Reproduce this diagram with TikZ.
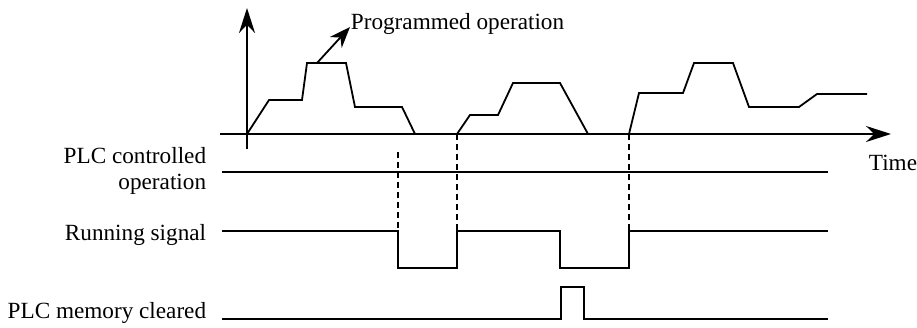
\documentclass[tikz,border=0pt]{standalone}
\usepackage{fontspec}
\setmainfont{Liberation Serif}
\usetikzlibrary{arrows.meta}
\begin{document}
\begin{tikzpicture}[x=1pt,y=-1pt,line width=1.8pt,
  lab/.style={font=\fontsize{23.2}{26}\selectfont,inner sep=0pt},
  bigtip/.style={-{Stealth[length=25pt,width=16pt]}}]
\useasboundingbox (0,0) rectangle (917,328);
% axes
\draw[bigtip] (247,149) -- (247,8);
\draw[bigtip] (220,134) -- (891,134);
\node[lab,anchor=west] (time) at (868,163) {Time};

% programmed operation
\draw (247,134) -- (269,100) -- (302,100) -- (307,63) -- (346,63) -- (355,107)
  -- (402,107) -- (415,134);
\draw (457,134) -- (470,115) -- (498,115) -- (513,83) -- (560,83) -- (588,134);
\draw (629,134) -- (639,93) -- (683,93) -- (694,63) -- (733,63) -- (749,107)
  -- (799,107) -- (817,94) -- (867,94);
\draw[-{Stealth[length=21pt,width=16pt]}] (317,63) -- (350,27);
\node[lab,anchor=west] (prog) at (350,24) {Programmed operation};

% signals
\node[lab,anchor=east,align=right] (plc) at (207,171) {PLC controlled\\operation};
\draw (222,172) -- (828,172);
\node[lab,anchor=east] (run) at (207,235) {Running signal};
\draw (222,231) -- (398,231) -- (398,268) -- (457,268) -- (457,231) -- (560,231)
  -- (560,268) -- (629,268) -- (629,231) -- (828,231);
\node[lab,anchor=east] (mem) at (207,313) {PLC memory cleared};
\draw (222,319) -- (561,319) -- (561,287) -- (584,287) -- (584,319) -- (828,319);

% dashed marks
\foreach \x/\y in {398/152,457/134,629/134}
  \draw[dashed,dash pattern=on 6pt off 4pt] (\x,\y) -- (\x,231);
\end{tikzpicture}
\end{document}
